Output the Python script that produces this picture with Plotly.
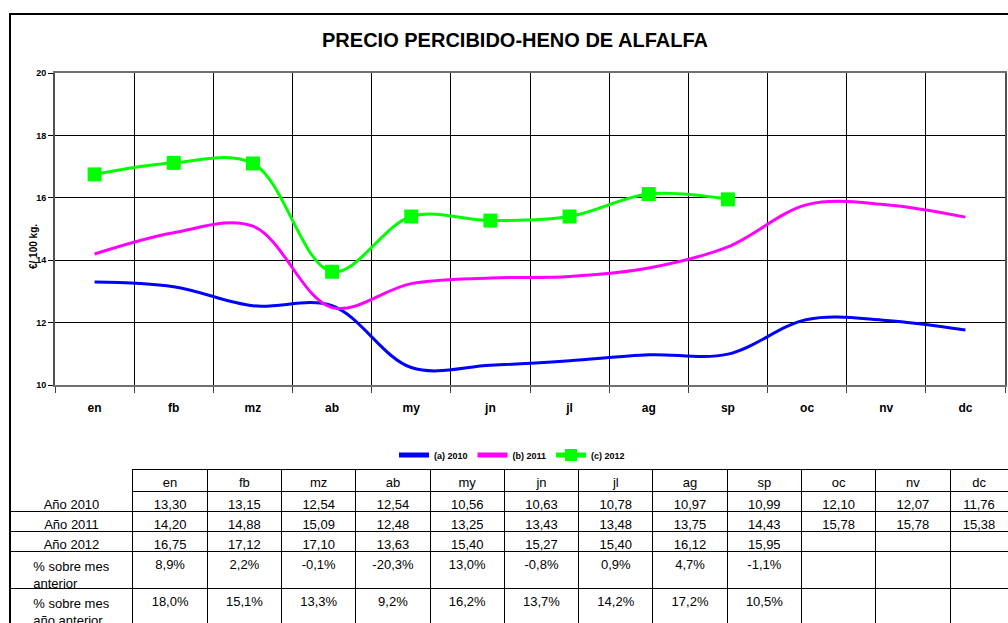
import plotly.graph_objects as go

W, H = 1008, 623

months = ['en', 'fb', 'mz', 'ab', 'my', 'jn', 'jl', 'ag', 'sp', 'oc', 'nv', 'dc']
y2010 = [13.30, 13.15, 12.54, 12.54, 10.56, 10.63, 10.78, 10.97, 10.99, 12.10, 12.07, 11.76]
y2011 = [14.20, 14.88, 15.09, 12.48, 13.25, 13.43, 13.48, 13.75, 14.43, 15.78, 15.78, 15.38]
y2012 = [16.75, 17.12, 17.10, 13.63, 15.40, 15.27, 15.40, 16.12, 15.95]
pct_mes = [8.9, 2.2, -0.1, -20.3, 13.0, -0.8, 0.9, 4.7, -1.1]
pct_anio = [18.0, 15.1, 13.3, 9.2, 16.2, 13.7, 14.2, 17.2, 10.5]

row_labels = ['Año 2010', 'Año 2011', 'Año 2012', '% sobre mes<br>anterior']
last_row_label = '% sobre mes<br>año anterior'
series_names = ['(a) 2010', '(b) 2011', '(c) 2012']
title_text = 'PRECIO PERCIBIDO-HENO DE ALFALFA'
y_title = '€/ 100 kg.'

FONT = 'Liberation Sans, Arial, sans-serif'


def num(v):
    return f"{v:.2f}".replace('.', ',')


def pct(v):
    return f"{v:.1f}%".replace('.', ',')


fig = go.Figure()

fig.add_trace(go.Scatter(x=months, y=y2010, name=series_names[0], mode='lines',
                         line=dict(color='#0000FF', width=3, shape='spline', smoothing=1)))
fig.add_trace(go.Scatter(x=months, y=y2011, name=series_names[1], mode='lines',
                         line=dict(color='#FF00FF', width=3, shape='spline', smoothing=1)))
fig.add_trace(go.Scatter(x=months[:len(y2012)], y=y2012, name=series_names[2], mode='lines+markers',
                         line=dict(color='#00FF00', width=3, shape='spline', smoothing=1),
                         marker=dict(symbol='square', size=14, color='#00FF00')))

# table (upper part: header + four rows)
cols = [row_labels]
for i, m in enumerate(months):
    cols.append([num(y2010[i]), num(y2011[i]),
                 num(y2012[i]) if i < len(y2012) else '',
                 pct(pct_mes[i]) if i < len(pct_mes) else ''])

colw = [123] + [74.3] * 11 + [58]
TX = [10 / W, 1.0]

fig.add_trace(go.Table(
    domain=dict(x=TX, y=[1 - 588 / H, 1 - 469 / H]),
    columnwidth=colw,
    header=dict(values=[''] + months,
                height=22,
                align='center',
                font=dict(family=FONT, size=13, color='black'),
                fill=dict(color='white'),
                line=dict(color=['white'] + ['black'] * 12, width=1)),
    cells=dict(values=cols,
               height=20,
               align='center',
               font=dict(family=FONT, size=13, color='black'),
               fill=dict(color='white'),
               line=dict(color='black', width=1)),
))

# table (last row)
last_vals = [last_row_label] + [pct(pct_anio[i]) if i < len(pct_anio) else '' for i in range(len(months))]
fig.add_trace(go.Table(
    domain=dict(x=TX, y=[0, 1 - 588 / H]),
    columnwidth=colw,
    header=dict(values=last_vals,
                height=20,
                align='center',
                font=dict(family=FONT, size=13, color='black'),
                fill=dict(color='white'),
                line=dict(color='black', width=1)),
    cells=dict(values=[[] for _ in last_vals],
               fill=dict(color='white'),
               line=dict(color='black', width=1)),
))

fig.update_layout(
    width=W, height=H,
    margin=dict(l=0, r=0, t=0, b=0, autoexpand=False),
    paper_bgcolor='white', plot_bgcolor='white',
    font=dict(family=FONT, color='black'),
    title=dict(text=title_text, x=515 / W, xanchor='center', y=1 - 40 / H, yanchor='middle',
               font=dict(family=FONT, size=20, color='black', weight='bold')),
    showlegend=True,
    legend=dict(orientation='h', x=512 / W, xanchor='center', y=1 - 455 / H, yanchor='middle',
                font=dict(family=FONT, size=9, color='black', weight='bold'),
                bgcolor='rgba(0,0,0,0)', itemwidth=30, tracegroupgap=0, itemsizing='constant'),
    xaxis=dict(domain=[55 / W, 1005 / W], type='category', range=[-0.5, 11.5],
               categoryorder='array', categoryarray=months, automargin=False,
               tickson='boundaries', ticks='outside', ticklen=6, tickcolor='#404040',
               showgrid=True, gridcolor='black', gridwidth=1,
               showline=True, linecolor='#707070', linewidth=2, mirror=True,
               tickfont=dict(family=FONT, size=12, color='black', weight='bold'),
               ticklabelstandoff=11, fixedrange=True),
    yaxis=dict(domain=[1 - 385 / H, 1 - 73 / H], range=[10, 20], dtick=2, tick0=10,
               automargin=False,
               ticks='outside', ticklen=5, tickcolor='black',
               showgrid=True, gridcolor='black', gridwidth=1, zeroline=False,
               showline=True, linecolor='#505050', linewidth=2, mirror=True,
               tickfont=dict(family=FONT, size=9, color='black', weight='bold'),
               fixedrange=True),
    annotations=[dict(text=y_title, xref='paper', yref='paper', x=33 / W, y=1 - 247 / H,
                      xanchor='center', yanchor='middle', textangle=-90, showarrow=False,
                      font=dict(family=FONT, size=10, color='black', weight='bold'))],
    shapes=[dict(type='rect', xref='paper', yref='paper', x0=10 / W, x1=1.2, y0=-0.2, y1=1 - 14 / H,
                 line=dict(color='black', width=2), layer='above')],
)

fig.write_html('out.html', config={'displayModeBar': False},
               post_script="document.body.style.margin='0';document.body.style.overflow='hidden';")
